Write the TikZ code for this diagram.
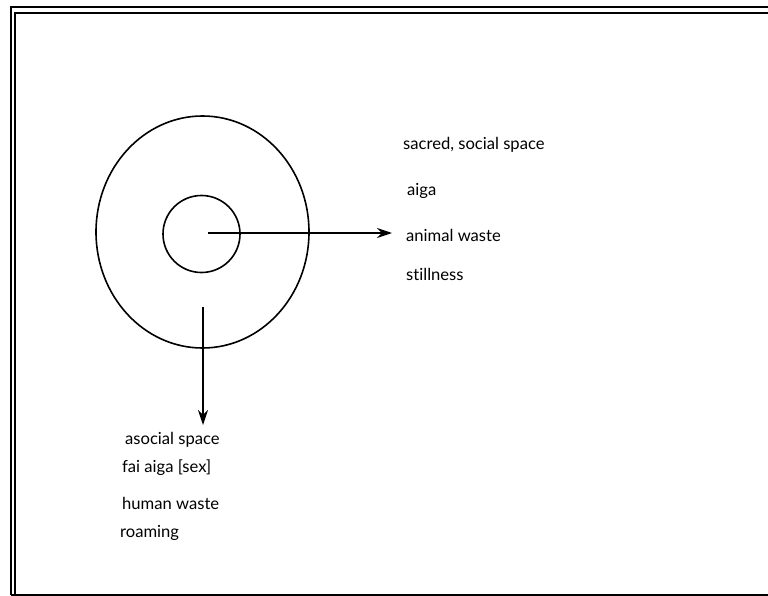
\documentclass[tikz,border=0pt]{standalone}
\usepackage{fontspec}
\setmainfont{Lato}[Ligatures=NoCommon]
\usetikzlibrary{arrows.meta,shapes.geometric}
\tikzset{
  ring/.style={draw, line width=1.6pt, inner sep=0pt},
  lbl/.style={anchor=west, inner sep=0pt, font=\fontsize{16.6}{19}\selectfont},
  arr/.style={line width=1.6pt, -{Stealth[length=15pt,width=10pt]}},
  frame/.style={line width=1.4pt}
}
\begin{document}
\begin{tikzpicture}[x=1pt,y=-1pt]
\useasboundingbox (0,0) rectangle (768,596);
% frame
\draw[frame] (11,595) -- (11,7) -- (768,7);
\draw[frame] (15,595) -- (15,13) -- (768,13);
\draw[frame] (11,595) -- (768,595);
% circles
\node[ring, ellipse, minimum width=213pt, minimum height=232pt] (outer) at (202.5,232) {};
\node[ring, circle, minimum size=77pt] (inner) at (201.5,234) {};
% right labels
\node[lbl] (sacred) at (403,145) {sacred, social space};
\node[lbl] (aiga) at (407,191) {aiga};
\node[lbl] (animal) at (406,235) {animal waste};
\node[lbl] (still) at (406,274) {stillness};
% bottom labels
\node[lbl] (asocial) at (125,440) {asocial space};
\node[lbl] (fai) at (122,468) {fai aiga [sex]};
\node[lbl] (human) at (122,503) {human waste};
\node[lbl] (roam) at (120,533) {roaming};
% connectors
\coordinate (tipR) at (392,233);
\coordinate (startD) at (203,307);
\coordinate (tipD) at (203,425);
\draw[arr] (208,233) -- (tipR);
\draw[arr] (startD) -- (tipD);
\end{tikzpicture}
\end{document}
